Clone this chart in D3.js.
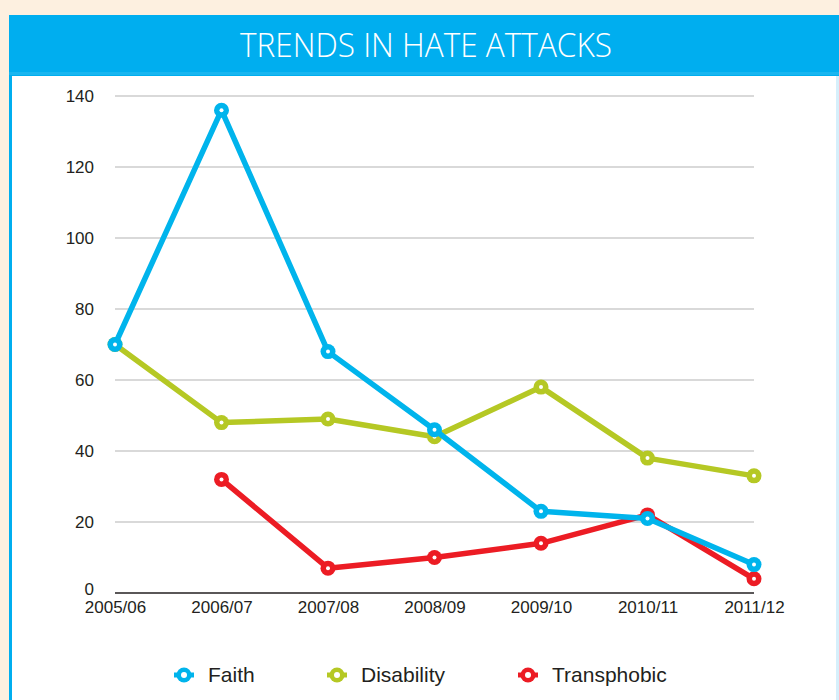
<!DOCTYPE html>
<html>
<head>
<meta charset="utf-8">
<script src="https://cdn.jsdelivr.net/npm/d3@7"></script>
<style>
  html, body { margin: 0; padding: 0; background: #fdf0e0; }
  svg { display: block; }
</style>
</head>
<body>
<svg id="chart" width="839" height="700"></svg>
<script>
// Reported hate attacks by year and type
const years = ["2005/06", "2006/07", "2007/08", "2008/09", "2009/10", "2010/11", "2011/12"];
const faith = [70, 136, 68, 46, 23, 21, 8];
const disability = [70, 48, 49, 44, 58, 38, 33];
const transphobic = [null, 32, 7, 10, 14, 22, 4];
const yTicks = [0, 20, 40, 60, 80, 100, 120, 140];

const seriesNames = ["Faith", "Disability", "Transphobic"];
const seriesColors = ["#00b4ec", "#b5c824", "#ec1c24"];
const seriesValues = [faith, disability, transphobic];

const svg = d3.select("#chart");
const W = 839, H = 700;
const labelFont = "'Liberation Sans', Arial, Helvetica, sans-serif";

// page background and panel
svg.append("rect").attr("width", W).attr("height", H).attr("fill", "#fdf0e0");
svg.append("rect").attr("x", 9).attr("y", 15).attr("width", 830).attr("height", H - 15).attr("fill", "#00aeef");
svg.append("rect").attr("x", 9).attr("y", 72).attr("width", 830).attr("height", 3).attr("fill", "#19b6f0");
svg.append("rect").attr("x", 12).attr("y", 76).attr("width", 824).attr("height", H - 76).attr("fill", "#ffffff");
svg.append("rect").attr("x", 836).attr("y", 76).attr("width", 3).attr("height", H - 76).attr("fill", "#d6effb");

svg.append("text")
  .attr("x", 426).attr("y", 57)
  .attr("text-anchor", "middle")
  .attr("fill", "#ffffff")
  .attr("font-family", "'Open Sans', sans-serif")
  .attr("font-weight", 300)
  .attr("font-size", 33)
  .attr("textLength", 372)
  .attr("lengthAdjust", "spacingAndGlyphs")
  .text("TRENDS IN HATE ATTACKS");

// scales
const x = d3.scalePoint().domain(years).range([115, 754]);
const y = d3.scaleLinear().domain([0, 140]).range([593, 96]);

// horizontal gridlines
const grid = svg.append("g");
grid.selectAll("line").data(yTicks.filter(d => d > 0)).join("line")
  .attr("x1", 115).attr("x2", 754)
  .attr("y1", d => y(d)).attr("y2", d => y(d))
  .attr("stroke", "#b4b4b4").attr("stroke-width", 1.2);

// y axis labels
const yAxis = svg.append("g").attr("transform", "translate(115,0)")
  .call(d3.axisLeft(y).tickValues(yTicks).tickSize(0).tickPadding(21));
yAxis.select(".domain").remove();
yAxis.selectAll("text")
  .attr("font-family", labelFont)
  .attr("font-size", 17).attr("fill", "#231f20");
yAxis.selectAll(".tick").filter(d => d === 0).select("text").attr("dy", "0.1em");

// x axis baseline and labels
svg.append("line")
  .attr("x1", 115).attr("x2", 754).attr("y1", y(0)).attr("y2", y(0))
  .attr("stroke", "#231f20").attr("stroke-width", 1.6);
const xAxis = svg.append("g").attr("transform", `translate(0,${y(0)})`)
  .call(d3.axisBottom(x).tickSize(0).tickPadding(8));
xAxis.select(".domain").remove();
xAxis.selectAll("text")
  .attr("font-family", labelFont)
  .attr("font-size", 17).attr("fill", "#231f20");

// lines, drawn so Faith sits on top
const line = d3.line()
  .defined(d => d.v !== null)
  .x(d => x(d.year)).y(d => y(d.v));

const order = [2, 1, 0];
order.forEach(i => {
  const pts = years.map((yr, j) => ({ year: yr, v: seriesValues[i][j] }));
  const g = svg.append("g");
  g.append("path")
    .datum(pts)
    .attr("d", line)
    .attr("fill", "none")
    .attr("stroke", seriesColors[i])
    .attr("stroke-width", 5.5)
    .attr("stroke-linejoin", "round");
  const dots = pts.filter(d => d.v !== null);
  g.selectAll("circle.m").data(dots).join("circle")
    .attr("class", "m")
    .attr("cx", d => x(d.year)).attr("cy", d => y(d.v))
    .attr("r", 7.5).attr("fill", seriesColors[i]);
  g.selectAll("circle.c").data(dots).join("circle")
    .attr("class", "c")
    .attr("cx", d => x(d.year)).attr("cy", d => y(d.v))
    .attr("r", 2).attr("fill", "#ffffff");
});

// legend: short line stub with a hollow marker, then the series name
const legendX = [184, 337, 528];
const legend = svg.append("g");
seriesNames.forEach((name, i) => {
  const g = legend.append("g").attr("transform", `translate(${legendX[i]},675)`);
  g.append("line").attr("x1", -10).attr("x2", 10)
    .attr("stroke", seriesColors[i]).attr("stroke-width", 5);
  g.append("circle").attr("r", 7.5).attr("fill", seriesColors[i]);
  g.append("circle").attr("r", 3).attr("fill", "#ffffff");
  g.append("text").attr("x", 24).attr("y", 0).attr("dy", "0.35em")
    .attr("font-family", labelFont)
    .attr("font-size", 21).attr("fill", "#231f20")
    .text(name);
});
</script>
</body>
</html>
